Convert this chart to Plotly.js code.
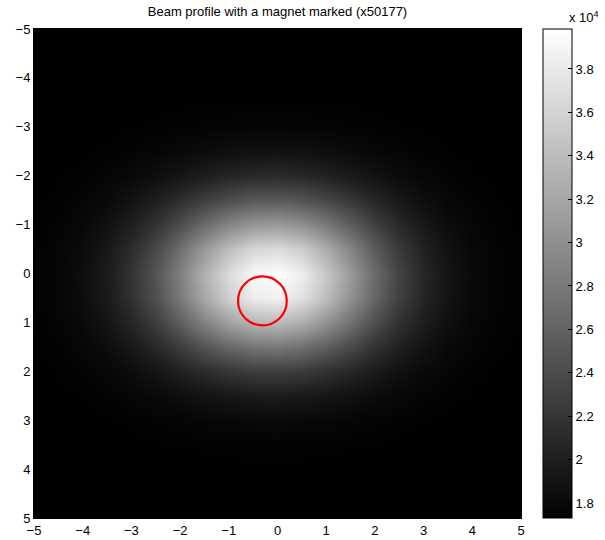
<!DOCTYPE html>
<html>
<head>
<meta charset="utf-8">
<script src="https://cdn.plot.ly/plotly-3.0.1.min.js"></script>
<style>html,body{margin:0;padding:0;background:#fff;}#chart{width:605px;height:540px;}</style>
</head>
<body>
<div id="chart"></div>
<script>
// Grid positions (beam image, 0.5 unit sampling)
const xGrid = [-5,-4.5,-4,-3.5,-3,-2.5,-2,-1.5,-1,-0.5,0,0.5,1,1.5,2,2.5,3,3.5,4,4.5,5];
const yGrid = [-5,-4.5,-4,-3.5,-3,-2.5,-2,-1.5,-1,-0.5,0,0.5,1,1.5,2,2.5,3,3.5,4,4.5,5];

// Beam intensity (counts), one row per yGrid value
const intensity = [
  [17300,17300,17300,17300,17300,17300,17300,17300,17301,17301,17301,17301,17301,17300,17300,17300,17300,17300,17300,17300,17300],
  [17300,17300,17300,17300,17301,17302,17302,17303,17304,17304,17305,17304,17304,17303,17302,17301,17301,17300,17300,17300,17300],
  [17300,17301,17301,17303,17305,17309,17313,17318,17322,17325,17326,17324,17320,17316,17311,17307,17304,17302,17301,17300,17300],
  [17301,17303,17306,17313,17324,17340,17361,17384,17405,17419,17422,17414,17396,17373,17351,17332,17318,17309,17304,17302,17301],
  [17304,17311,17325,17350,17393,17455,17535,17623,17703,17756,17767,17735,17667,17581,17495,17423,17370,17336,17317,17307,17303],
  [17314,17335,17378,17458,17591,17787,18038,18314,18565,18731,18767,18665,18452,18181,17912,17685,17520,17414,17354,17323,17309],
  [17336,17389,17500,17706,18049,18552,19198,19909,20553,20979,21074,20811,20262,19566,18873,18290,17865,17593,17438,17359,17323],
  [17376,17488,17722,18157,18878,19939,21299,22798,24155,25053,25252,24698,23542,22076,20615,19387,18491,17917,17590,17423,17348],
  [17432,17625,18028,18779,20024,21855,24204,26791,29135,30685,31029,30072,28076,25545,23023,20903,19357,18365,17800,17513,17383],
  [17486,17760,18330,19392,21154,23744,27066,30725,34040,36233,36719,35367,32542,28963,25395,22397,20209,18807,18008,17601,17417],
  [17516,17833,18493,19724,21766,24768,28619,32860,36702,39243,39807,38239,34966,30818,26682,23207,20672,19046,18120,17649,17435],
  [17505,17806,18433,19602,21541,24391,28048,32074,35722,38135,38671,37182,34074,30135,26209,22909,20501,18958,18079,17631,17428],
  [17459,17694,18181,19091,20599,22816,25660,28793,31630,33508,33924,32766,30348,27284,24230,21663,19790,18590,17906,17558,17400],
  [17402,17551,17862,18441,19403,20816,22629,24625,26434,27631,27896,27158,25617,23664,21717,20081,18887,18122,17686,17464,17364],
  [17353,17431,17593,17896,18398,19136,20083,21125,22070,22695,22833,22448,21643,20623,19607,18752,18129,17729,17502,17386,17333],
  [17323,17356,17426,17555,17770,18086,18491,18937,19341,19608,19667,19502,19158,18722,18287,17921,17655,17484,17386,17337,17314],
  [17308,17320,17344,17389,17465,17575,17717,17874,18015,18109,18130,18072,17951,17798,17646,17518,17424,17364,17330,17313,17305],
  [17302,17306,17313,17326,17347,17379,17420,17465,17506,17532,17538,17522,17487,17443,17399,17363,17336,17319,17309,17304,17301],
  [17301,17301,17303,17306,17311,17319,17328,17339,17348,17355,17356,17352,17344,17334,17323,17315,17308,17304,17302,17301,17300],
  [17300,17300,17301,17301,17302,17304,17305,17307,17309,17311,17311,17310,17308,17306,17305,17303,17302,17301,17300,17300,17300],
  [17300,17300,17300,17300,17300,17301,17301,17301,17301,17302,17302,17302,17301,17301,17301,17300,17300,17300,17300,17300,17300]
];

// Colour limits
const colorLimits = [17310, 39840];
const cbTickVals = [18000,20000,22000,24000,26000,28000,30000,32000,34000,36000,38000];
const cbTickText = ['1.8','2','2.2','2.4','2.6','2.8','3','3.2','3.4','3.6','3.8'];
const axisTicks = [-5,-4,-3,-2,-1,0,1,2,3,4,5];

// Magnet marker: centre (x, y) and radius
const magnetCenter = [-0.31, 0.56];
const magnetRadius = [0.5];

const titleText = 'Beam profile with a magnet marked (x50177)';
const FONT = '"Liberation Sans", Arial, Helvetica, sans-serif';

const trace = {
  type: 'heatmap',
  x: xGrid, y: yGrid, z: intensity,
  zsmooth: 'best',
  zmin: colorLimits[0], zmax: colorLimits[1],
  colorscale: [[0,'#000000'],[1,'#ffffff']],
  hoverinfo: 'skip',
  colorbar: {
    x: 1.0452, xanchor: 'left', xpad: 0,
    y: 0.5, yanchor: 'middle', ypad: 0,
    len: 1, lenmode: 'fraction',
    thickness: 29, thicknessmode: 'pixels',
    outlinewidth: 1, outlinecolor: '#000',
    tickmode: 'array', tickvals: cbTickVals, ticktext: cbTickText,
    ticks: 'inside', ticklen: 4, tickcolor: '#000',
    tickfont: {family: FONT, size: 13, color: '#000'}
  }
};

const layout = {
  width: 605, height: 540,
  margin: {l: 34, r: 84, t: 29, b: 22, pad: 0, autoexpand: false},
  paper_bgcolor: '#fff', plot_bgcolor: '#000',
  font: {family: FONT, size: 13, color: '#000'},
  title: {text: titleText, x: 0.4587, xanchor: 'center', y: 0.978, yanchor: 'middle',
          font: {family: FONT, size: 13, color: '#000'}},
  xaxis: {
    range: [-5, 5], tickmode: 'array', tickvals: axisTicks,
    ticks: 'inside', ticklen: 5, tickcolor: '#000',
    showline: true, linecolor: '#000', linewidth: 1, mirror: 'ticks',
    showgrid: false, zeroline: false, fixedrange: true, automargin: false,
    tickfont: {family: FONT, size: 13, color: '#000'}
  },
  yaxis: {
    range: [5, -5], tickmode: 'array', tickvals: axisTicks,
    ticks: 'inside', ticklen: 5, tickcolor: '#000',
    showline: true, linecolor: '#000', linewidth: 1, mirror: 'ticks',
    showgrid: false, zeroline: false, fixedrange: true, automargin: false,
    tickfont: {family: FONT, size: 13, color: '#000'}
  },
  shapes: [{
    type: 'circle', xref: 'x', yref: 'y',
    x0: magnetCenter[0] - magnetRadius[0], x1: magnetCenter[0] + magnetRadius[0],
    y0: magnetCenter[1] - magnetRadius[0], y1: magnetCenter[1] + magnetRadius[0],
    line: {color: '#ff0000', width: 2.2}
  }],
  annotations: [{
    text: 'x 10<sup>4</sup>', xref: 'paper', yref: 'paper',
    x: 1.094, xanchor: 'left', y: 1.004, yanchor: 'bottom',
    showarrow: false, font: {family: FONT, size: 13, color: '#000'}
  }]
};

Plotly.newPlot('chart', [trace], layout, {displayModeBar: false, staticPlot: true});
</script>
</body>
</html>
